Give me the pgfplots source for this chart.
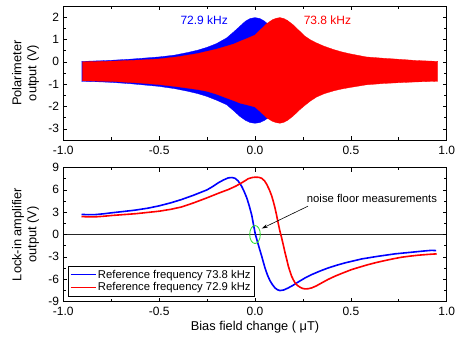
\documentclass[border=0pt]{standalone}
\usepackage{fontspec}
\setmainfont{Liberation Sans}
\usepackage{pgfplots}
\pgfplotsset{compat=1.18}
\usetikzlibrary{arrows.meta}
\definecolor{lgreen}{RGB}{40,225,40}
\begin{document}
\fontsize{12bp}{14bp}\selectfont
\begin{tikzpicture}
\pgfplotsset{
  common/.style={
    scale only axis, width=383.4bp, height=134bp,
    xmin=-1, xmax=1,
    xtick={-1,-0.5,0,0.5,1}, minor x tick num=1,
    xticklabel style={yshift=-1.8bp, /pgf/number format/.cd, fixed, fixed zerofill, precision=1},
    tick align=inside,
    major tick length=4bp, minor tick length=2.5bp,
    every tick/.style={black, line width=0.6bp},
    axis line style={black, line width=0.8bp},
    /pgf/number format/assume math mode=true,
    tick label style={font=\fontsize{12bp}{14bp}\selectfont},
    label style={font=\fontsize{12.8bp}{15bp}\selectfont},
    axis on top,
    anchor=north west,
  }
}
\begin{axis}[common, at={(0,0)},
  ymin=-3.5, ymax=2.5, ytick={-3,-2,-1,0,1,2}, minor y tick num=1,
  ylabel={Polarimeter\\output (V)},
  ylabel style={align=center, at={(axis description cs:-0.0986,0.5)}, anchor=center},
]
% 72.9 kHz envelope (blue)
\addplot[fill=blue, draw=blue, line width=0.3bp] coordinates {
(-0.905,0.02) (-0.8,0.05) (-0.75,0.07) (-0.65,0.12) (-0.5,0.22) (-0.42,0.30)
(-0.35,0.42) (-0.3,0.52) (-0.25,0.65) (-0.2,0.82) (-0.148,1.07) (-0.11,1.35)
(-0.078,1.6) (-0.05,1.82) (-0.025,1.94) (0,1.98) (0.025,1.94) (0.05,1.82)
(0.078,1.6) (0.11,1.35) (0.148,1.07) (0.2,0.82) (0.25,0.65) (0.3,0.52)
(0.3,-1.42) (0.25,-1.55) (0.2,-1.72) (0.148,-1.92) (0.11,-2.2) (0.078,-2.45)
(0.05,-2.62) (0.025,-2.72) (0,-2.75) (-0.025,-2.72) (-0.05,-2.62) (-0.078,-2.45)
(-0.11,-2.2) (-0.148,-1.92) (-0.2,-1.72) (-0.25,-1.55) (-0.3,-1.42) (-0.35,-1.32)
(-0.42,-1.2) (-0.5,-1.1) (-0.65,-0.98) (-0.75,-0.92) (-0.8,-0.9) (-0.905,-0.875)
};
% 73.8 kHz envelope (red)
\addplot[fill=red, draw=red, line width=0.3bp] coordinates {
(-0.9,0.0) (-0.75,0.03) (-0.6,0.08) (-0.5,0.13) (-0.4,0.23) (-0.3,0.37)
(-0.25,0.47) (-0.2,0.57) (-0.148,0.7) (-0.11,0.8) (-0.078,0.92) (-0.04,1.05)
(0,1.2) (0.03,1.45) (0.06,1.7) (0.09,1.88) (0.11,1.95) (0.13,1.98)
(0.15,1.94) (0.17,1.85) (0.2,1.65) (0.23,1.4) (0.26,1.15) (0.29,0.98)
(0.32,0.85) (0.36,0.7) (0.41,0.55) (0.45,0.45) (0.495,0.36) (0.58,0.22)
(0.67,0.16) (0.76,0.11) (0.84,0.06) (0.953,0.02)
(0.953,-0.87) (0.84,-0.9) (0.76,-0.93) (0.67,-0.97) (0.58,-1.03) (0.495,-1.15)
(0.45,-1.22) (0.41,-1.3) (0.36,-1.43) (0.32,-1.58) (0.29,-1.75) (0.26,-1.95)
(0.23,-2.17) (0.2,-2.42) (0.17,-2.62) (0.15,-2.71) (0.13,-2.75) (0.11,-2.72)
(0.09,-2.66) (0.06,-2.5) (0.03,-2.25) (0,-2.02) (-0.04,-1.93) (-0.078,-1.85)
(-0.11,-1.74) (-0.148,-1.62) (-0.2,-1.45) (-0.25,-1.32) (-0.3,-1.24) (-0.4,-1.12)
(-0.5,-1.02) (-0.6,-0.95) (-0.75,-0.875) (-0.9,-0.85)
};
\node[blue] at (axis cs:-0.265,1.87) {72.9 kHz};
\node[red] at (axis cs:0.378,1.87) {73.8 kHz};
\end{axis}

\begin{axis}[common, at={(0,-161.5bp)},
  ymin=-9, ymax=9, ytick={-9,-6,-3,0,3,6,9}, minor y tick num=1,
  ylabel={Lock-in amplifier\\output (V)},
  ylabel style={align=center, at={(axis description cs:-0.0986,0.5)}, anchor=center},
  xlabel={Bias field change ( μT)},
  xlabel style={at={(axis description cs:0.5,-0.1925)}, anchor=center},
  legend style={at={(axis description cs:0.013,0.04)}, anchor=south west,
    draw=black, line width=0.6bp, font=\fontsize{11.3bp}{12.7bp}\selectfont,
    inner sep=1.5bp, row sep=-1.5bp},
  legend cell align=left,
  legend image code/.code={\draw[#1, line width=0.9bp] (0bp,0bp) -- (25bp,0bp);},
]
\addplot[black!85, line width=1.5bp, forget plot] coordinates {(-1,0) (1,0)};
\addplot[blue, line width=1.6bp] coordinates {
(-0.905,2.70) (-0.87,2.66) (-0.835,2.67) (-0.79,2.78) (-0.75,2.91) (-0.69,3.08)
(-0.626,3.27) (-0.56,3.53) (-0.5,3.85) (-0.44,4.25) (-0.383,4.70) (-0.32,5.28)
(-0.25,6.0) (-0.22,6.45) (-0.192,6.94) (-0.165,7.32) (-0.139,7.61) (-0.12,7.65)
(-0.104,7.55) (-0.088,7.2) (-0.07,6.5) (-0.057,5.8) (-0.043,4.93) (-0.03,3.85)
(-0.017,2.6) (-0.008,1.35) (0.002,0.0) (0.017,-1.35) (0.035,-2.92) (0.052,-4.48)
(0.065,-5.45) (0.078,-6.19) (0.09,-6.7) (0.104,-7.17) (0.117,-7.42) (0.13,-7.53)
(0.15,-7.45) (0.174,-7.17) (0.2,-6.8) (0.226,-6.37) (0.26,-5.85) (0.296,-5.38)
(0.34,-4.9) (0.383,-4.48) (0.43,-4.1) (0.47,-3.81) (0.557,-3.28) (0.643,-2.92)
(0.73,-2.6) (0.817,-2.38) (0.88,-2.22) (0.92,-2.13) (0.945,-2.16)
};
\addlegendentry{Reference frequency 73.8 kHz}
\addplot[red, line width=1.6bp] coordinates {
(-0.905,2.42) (-0.87,2.36) (-0.835,2.37) (-0.79,2.45) (-0.75,2.55) (-0.62,2.8)
(-0.5,3.13) (-0.44,3.38) (-0.383,3.70) (-0.32,4.25) (-0.25,4.93) (-0.19,5.55)
(-0.139,6.04) (-0.1,6.5) (-0.07,6.94) (-0.05,7.25) (-0.035,7.5) (-0.015,7.65)
(0.0,7.7) (0.02,7.68) (0.035,7.55) (0.05,7.2) (0.061,6.75) (0.075,6.0)
(0.087,5.2) (0.096,4.4) (0.104,3.6) (0.113,2.55) (0.122,1.4) (0.13,0.45)
(0.139,-0.45) (0.148,-1.45) (0.157,-2.47) (0.166,-3.4) (0.174,-4.26) (0.183,-5.0)
(0.191,-5.6) (0.2,-6.08) (0.209,-6.5) (0.222,-6.85) (0.235,-7.08) (0.248,-7.24)
(0.261,-7.31) (0.278,-7.28) (0.296,-7.17) (0.32,-6.9) (0.348,-6.5) (0.38,-6.05)
(0.417,-5.6) (0.46,-5.15) (0.504,-4.71) (0.55,-4.35) (0.591,-4.04) (0.635,-3.75)
(0.678,-3.5) (0.72,-3.27) (0.765,-3.05) (0.81,-2.9) (0.852,-2.78) (0.9,-2.68)
(0.948,-2.6)
};
\addlegendentry{Reference frequency 72.9 kHz}
\draw[lgreen, line width=0.8bp] (axis cs:0.0,0) ellipse [x radius=5.3bp, y radius=9bp];
\draw[-{Stealth[length=6bp,width=3.5bp]}, line width=0.6bp] (axis cs:0.276,3.8) -- (axis cs:0.035,0.8);
\node[font=\fontsize{11.3bp}{13bp}\selectfont] at (axis cs:0.61,4.8) {noise floor measurements};
\end{axis}
\pgfresetboundingbox
\path (-63.3bp,6bp) rectangle (391.7bp,-333bp);
\end{tikzpicture}
\end{document}
